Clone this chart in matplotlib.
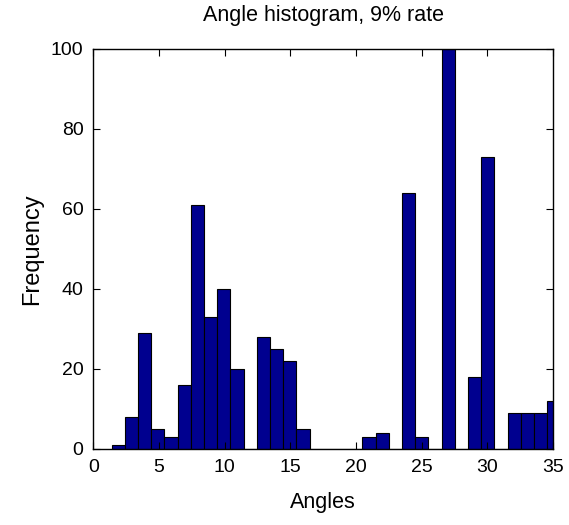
import numpy as np
import matplotlib
matplotlib.use('Agg')
import matplotlib.pyplot as plt

# histogram: 34 bins starting near 1.39, width ~1.005
bin_start = 1.39
bin_width = 1.005
counts = [1, 8, 29, 5, 3, 16, 61, 33, 40, 20, 0, 28, 25, 22, 5,
          0, 0, 0, 0, 3, 4, 0, 64, 3, 0, 100, 0, 18, 73, 0, 9, 9, 9, 12]
xticks = [0, 5, 10, 15, 20, 25, 30, 35]
yticks = [0, 20, 40, 60, 80, 100]

plt.rcParams['font.family'] = ['Liberation Sans', 'DejaVu Sans']

fig = plt.figure(figsize=(5.69, 5.25), dpi=100)
ax = fig.add_axes([0.164, 0.145, 0.808, 0.762])

left = bin_start + bin_width * np.arange(len(counts))
ax.bar(left, counts, width=bin_width, align='edge',
       color=(0, 0, 0.5625), edgecolor='black', linewidth=0.8)

ax.set_xlim(0, 35)
ax.set_ylim(0, 100)
ax.set_xticks(xticks)
ax.set_yticks(yticks)
ax.tick_params(direction='in', top=True, right=True, labelsize=14, length=5, pad=7)
for s in ax.spines.values():
    s.set_linewidth(1.0)

ax.set_title('Angle histogram, 9% rate', fontsize=15.5, pad=20)
ax.set_xlabel('Angles', fontsize=15.5, labelpad=12)
ax.set_ylabel('Frequency', fontsize=17, labelpad=6)

fig.savefig('out.png', dpi=100)
